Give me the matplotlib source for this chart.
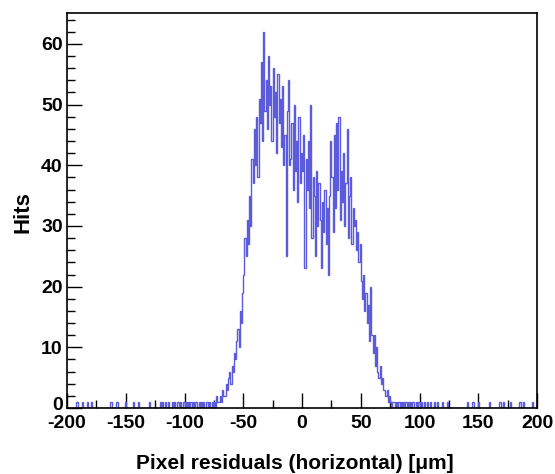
import numpy as np
import matplotlib
matplotlib.use("Agg")
import matplotlib.pyplot as plt
import matplotlib.transforms as mtransforms
from matplotlib.ticker import MultipleLocator

# histogram: 1 um bins from -200 to 200
bin_lo, bin_hi = -200, 200

# counts of the core region, one value per bin starting at core_start
core_start = -75
core_counts = [
    1, 0, 2, 1, 1,      2, 1, 3, 2, 2,      4, 3, 5, 6, 4,
    7, 6, 9, 8, 11,     13, 10, 16, 14, 19, 22, 28, 25, 31, 27,
    35, 30, 41, 37, 46, 40, 48, 38, 51, 47, 57, 44, 62, 49, 54,
    46, 58, 50, 53, 44, 56, 48, 52, 42, 55, 47, 51, 43, 53, 40,
    45, 25, 49, 54, 40, 41, 47, 36, 50, 39, 44, 34, 48, 37, 42,
    39, 45, 23, 41, 36, 44, 33, 50, 28, 38, 35, 25, 39, 30, 37,
    31, 23, 34, 29, 36, 27, 33, 22, 35, 44, 38, 29, 45, 33, 47,
    36, 48, 31, 39, 34, 42, 30, 37, 46, 28, 35, 38, 27, 33, 30,
    31, 26, 29, 24, 27, 21, 18, 22, 16, 19, 14, 17, 11, 20, 12,
    9, 12, 7, 10, 6,    5, 7, 4, 5, 3,      3, 2, 3, 1, 2,
]

# isolated single hits in the tails
tail_bins = [
    -192, -187, -183, -180, -163, -158, -151, -144, -140, -130,
    -121, -119, -117, -114, -111, -109, -106, -104, -101, -99,
    -97, -95, -93, -91, -90, -88, -86, -84, -82, -81, -79, -77,
    75, 77, 78, 80, 82, 84, 86, 88, 90, 92, 94, 97, 99, 101,
    104, 106, 109, 112, 115, 119, 123, 140, 145, 150, 159,
    168, 171, 177, 185, 188, 196,
]

edges = np.arange(bin_lo, bin_hi + 1, 1)
counts = np.zeros(len(edges) - 1)
counts[core_start - bin_lo: core_start - bin_lo + len(core_counts)] = core_counts
for b in tail_bins:
    counts[b - bin_lo] += 1

plt.rcParams['font.family'] = ['Liberation Sans', 'DejaVu Sans']
plt.rcParams['font.weight'] = 'bold'
plt.rcParams['axes.unicode_minus'] = False

fig = plt.figure(figsize=(5.55, 4.74), dpi=100)
ax = fig.add_axes([67 / 555, 66 / 474, 470 / 555, 395 / 474])

ax.stairs(counts, edges, color='#5b5bdc', lw=1.0, baseline=None, zorder=2)

ax.set_xlim(bin_lo, bin_hi)
ax.set_ylim(0, 65.1)
ax.xaxis.set_major_locator(MultipleLocator(50))
ax.xaxis.set_minor_locator(MultipleLocator(25))
ax.yaxis.set_major_locator(MultipleLocator(10))
ax.yaxis.set_minor_locator(MultipleLocator(2))
ax.tick_params(which='both', direction='in', top=False, right=False,
               labelsize=14, width=1)
ax.tick_params(which='major', length=11)
ax.tick_params(which='minor', length=6)
ax.tick_params(axis='x', pad=5)
ax.tick_params(axis='y', pad=3)
for lab in ax.get_xticklabels() + ax.get_yticklabels():
    lab.set_fontweight('bold')
for sp in ax.spines.values():
    sp.set_linewidth(1.2)
    sp.set_zorder(3)

# ROOT lifts the "0" label on the y axis a little
fig.canvas.draw()
shift = mtransforms.ScaledTranslation(0, 4 / 100, fig.dpi_scale_trans)
for lab in ax.get_yticklabels():
    if lab.get_text() == '0':
        lab.set_transform(lab.get_transform() + shift)

fig.text(295 / 555, 5 / 474, 'Pixel residuals (horizontal) [μm]',
         ha='center', va='baseline', fontsize=15, fontweight='bold')
fig.text(23 / 555, 262 / 474, 'Hits', rotation=90, ha='center', va='center',
         fontsize=16, fontweight='bold')

fig.savefig('out.png', dpi=100)
